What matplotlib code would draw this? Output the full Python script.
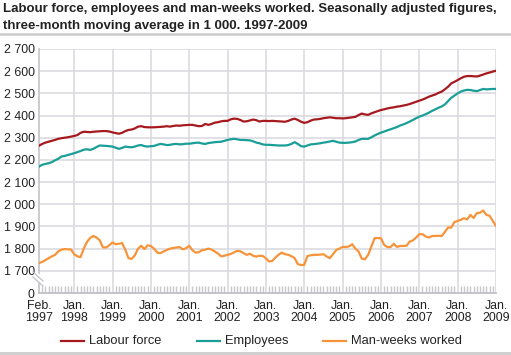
import matplotlib
matplotlib.use("Agg")
import matplotlib.pyplot as plt
from matplotlib.lines import Line2D
import numpy as np

plt.rcParams["font.family"] = ["Liberation Sans", "DejaVu Sans"]

# monthly values, Feb 1997 - Jan 2009 (in 1 000)
labour_force = [
    2264, 2272, 2278, 2282, 2286, 2290, 2295, 2298, 2300, 2302, 2305, 2308,
    2312, 2322, 2327, 2326, 2325, 2327, 2328, 2329, 2330, 2330, 2328, 2324,
    2321, 2318, 2322, 2330, 2335, 2337, 2342, 2350, 2352, 2348, 2347, 2347,
    2347, 2348, 2349, 2350, 2352, 2350, 2353, 2355, 2354, 2356, 2357, 2358,
    2358, 2355, 2352, 2353, 2362, 2358, 2362, 2368, 2370, 2374, 2376, 2376,
    2383, 2386, 2385, 2380, 2373, 2374, 2378, 2382, 2379, 2373, 2376, 2376,
    2375, 2376, 2375, 2374, 2373, 2372, 2376, 2382, 2386, 2380, 2372, 2367,
    2370, 2377, 2382, 2383, 2385, 2388, 2390, 2392, 2390, 2388, 2388, 2387,
    2388, 2390, 2392, 2394, 2402, 2409, 2405, 2403, 2410, 2415, 2420, 2425,
    2428, 2432, 2435, 2437, 2440, 2442, 2445, 2448, 2452, 2457, 2462, 2467,
    2472, 2478, 2485, 2490, 2495, 2502, 2508, 2518, 2530, 2545, 2552, 2560,
    2568, 2575, 2578, 2578, 2577, 2576, 2580, 2585, 2590, 2594, 2598, 2602,
]
employees = [
    2170, 2178, 2182, 2185, 2190, 2198, 2205, 2215, 2218, 2222, 2226, 2230,
    2235, 2240, 2246, 2248, 2245, 2250, 2258, 2265, 2264, 2263, 2262, 2260,
    2255, 2250, 2254, 2260, 2258, 2257, 2260, 2265, 2267, 2262, 2260, 2262,
    2263, 2268, 2272, 2270, 2267, 2268, 2271, 2272, 2270, 2271, 2273, 2273,
    2275, 2277, 2278, 2274, 2272, 2276, 2278, 2280, 2281, 2282, 2286, 2290,
    2293, 2295, 2293, 2290, 2290, 2289, 2288, 2284, 2278, 2275, 2270, 2268,
    2268, 2267, 2266, 2265, 2265, 2265, 2267, 2272, 2280, 2272, 2262, 2260,
    2265, 2270, 2271, 2273, 2275, 2278, 2280, 2283, 2286, 2282, 2278, 2277,
    2277, 2278, 2280, 2283, 2290, 2295, 2295, 2295, 2302, 2310, 2317, 2323,
    2328, 2333, 2338, 2343, 2348, 2355, 2360, 2366, 2373, 2380, 2388, 2395,
    2400, 2406, 2413, 2421, 2428, 2435, 2441, 2450, 2465, 2480, 2490, 2500,
    2508, 2513, 2516, 2515, 2512, 2510, 2515, 2520, 2518, 2519, 2520, 2520,
]
man_weeks = [
    1735, 1740, 1748, 1757, 1765, 1772, 1787, 1795, 1798, 1797, 1796, 1775,
    1765, 1762, 1800, 1830, 1848, 1857, 1850, 1838, 1806, 1805, 1815, 1828,
    1820, 1822, 1825, 1795, 1757, 1754, 1770, 1800, 1813, 1798, 1815, 1812,
    1800, 1782, 1780, 1787, 1794, 1800, 1803, 1805, 1807, 1797, 1802, 1813,
    1793, 1782, 1784, 1793, 1795, 1800, 1796, 1787, 1778, 1765, 1768, 1772,
    1776, 1783, 1790, 1788, 1780, 1772, 1777, 1768, 1764, 1768, 1767, 1756,
    1742, 1745, 1760, 1773, 1782, 1775, 1772, 1766, 1757, 1730, 1726, 1727,
    1767, 1770, 1772, 1772, 1773, 1775, 1765, 1757, 1775, 1794, 1800, 1808,
    1807, 1810, 1820, 1800, 1787, 1755, 1752, 1772, 1810, 1847, 1848, 1847,
    1817, 1807, 1807, 1822, 1808, 1812, 1812, 1813, 1832, 1837, 1850, 1865,
    1865, 1855, 1850, 1857, 1857, 1858, 1857, 1875, 1895, 1895, 1920, 1925,
    1930, 1937, 1932, 1952, 1938, 1960, 1962, 1972, 1952, 1948, 1925, 1903,
]
series_names = ["Labour force", "Employees", "Man-weeks worked"]
x_labels = ["Feb.\n1997"] + ["Jan.\n%d" % y for y in range(1998, 2010)]
y_ticks = [1600, 1700, 1800, 1900, 2000, 2100, 2200, 2300, 2400, 2500, 2600, 2700]

colors = ["#a6191e", "#1a9e98", "#f7943a"]
months = np.arange(len(labour_force))
jan_pos = [0] + list(range(11, len(months), 12))

fig = plt.figure(figsize=(5.11, 3.55), dpi=100)
ax = fig.add_axes([39 / 511, 1 - 293 / 355, 457 / 511, 244 / 355])

grid_c = "#d8d8de"
for y in y_ticks[1:]:
    ax.axhline(y, color=grid_c, lw=1.1, zorder=0)
for xp in jan_pos[1:]:
    ax.axvline(xp, color=grid_c, lw=1.1, zorder=0)

for vals, c in zip([labour_force, employees, man_weeks], colors):
    ax.plot(months, vals, color=c, lw=1.6)

ax.set_xlim(0, len(months) - 1)
ax.set_ylim(1600, 2700)
ax.set_xticks(jan_pos)
ax.set_xticklabels(x_labels, fontsize=8.9, color="#222222", linespacing=1.0)
ax.set_xticks(months, minor=True)
ax.set_yticks(y_ticks)
ax.set_yticklabels(["0"] + ["{:,}".format(v).replace(",", " ") for v in y_ticks[1:]],
                   fontsize=8.9, color="#222222")
ax.tick_params(axis="y", length=0, pad=3)
ax.tick_params(axis="x", which="major", length=0, pad=5)
ax.tick_params(axis="x", which="minor", direction="in", length=5, color="#c8c8cc", width=1)
ax.get_yticklabels()[0].set_y(1608)

for s in ["top", "right", "left"]:
    ax.spines[s].set_visible(False)
ax.spines["bottom"].set_color("#c0c0c6")
ax.spines["bottom"].set_linewidth(1.3)

# left axis line with break
ax.plot([0, 0], [1690, 2700], color="#c8c8cc", lw=1.3, clip_on=False, zorder=1)
ax.plot([0, 0], [1600, 1640], color="#c8c8cc", lw=1.3, clip_on=False, zorder=1)
for dy in [0, 5]:
    fig.add_artist(Line2D([33 / 511, 43 / 511], [1 - (272 + dy) / 355, 1 - (281 + dy) / 355],
                          color="#c0c0c6", lw=0.9))

fig.text(3 / 511, 1 - 9 / 355, "Labour force, employees and man-weeks worked. Seasonally adjusted figures,",
         fontsize=9.5, fontweight="bold", va="center", ha="left", color="#222222")
fig.text(3 / 511, 1 - 26 / 355, "three-month moving average in 1 000. 1997-2009",
         fontsize=9.5, fontweight="bold", va="center", ha="left", color="#222222")
fig.add_artist(Line2D([0, 1], [1 - 34 / 355, 1 - 34 / 355], color="#cccccc", lw=1.8))
fig.add_artist(Line2D([0, 1], [1 - 353 / 355, 1 - 353 / 355], color="#cccccc", lw=2))

# legend entries placed by hand
leg_y = 1 - 341 / 355
for name, c, x0 in zip(series_names, colors, [61, 197, 323]):
    fig.add_artist(Line2D([x0 / 511, (x0 + 23) / 511], [leg_y, leg_y], color=c, lw=1.6))
    fig.text((x0 + 28) / 511, leg_y, name, fontsize=9.3, va="center", ha="left", color="#222222")

fig.savefig("out.png", dpi=100)
